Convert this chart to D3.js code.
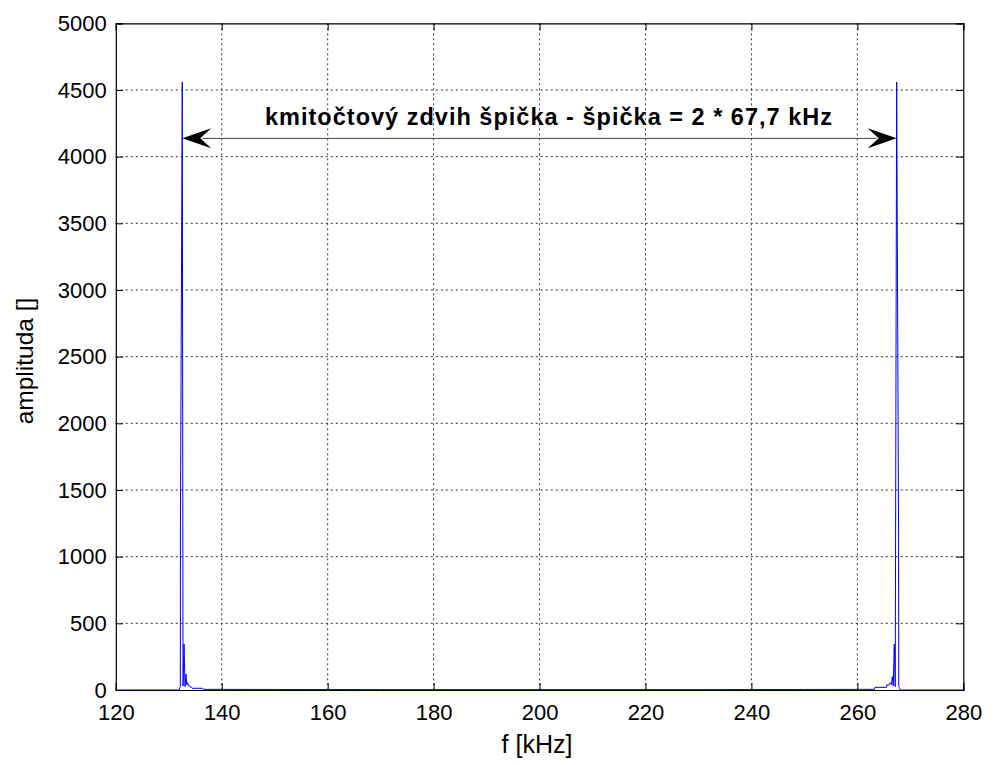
<!DOCTYPE html>
<html>
<head>
<meta charset="utf-8">
<script src="https://cdn.jsdelivr.net/npm/d3@7"></script>
<style>
  body { margin: 0; background: #fff; }
  svg { font-family: "Liberation Sans", Arial, sans-serif; }
</style>
</head>
<body>
<svg id="chart" width="994" height="765"></svg>
<script>
// spectrum (kHz, amplitude)
const freq = [
  120, 131.9, 132.1, 132.18, 132.2, 132.55, 132.69, 132.88, 133.07, 133.25, 133.38, 133.57, 133.7, 133.82, 134.0, 134.33, 134.4, 136.4, 136.5,
  150, 170, 200, 230, 250,
  263.2, 263.3, 265.5, 265.6, 265.9, 266.2, 266.45, 266.6, 266.78, 266.97, 267.15, 267.42, 267.78, 267.82, 267.9, 268.1, 280
];
const amp = [
  0, 0, 20, 25, 1215, 4560, 30, 345, 25, 120, 40, 55, 30, 35, 25, 20, 13, 13, 5,
  4, 3, 3, 3, 4,
  5, 20, 20, 40, 35, 55, 40, 100, 30, 343, 25, 4560, 1215, 25, 20, 0, 0
];

const xTicks = [120, 140, 160, 180, 200, 220, 240, 260, 280];
const yTicks = [0, 500, 1000, 1500, 2000, 2500, 3000, 3500, 4000, 4500, 5000];

const annotationText = "kmitočtový zdvih špička - špička = 2 * 67,7 kHz";
const arrowFrom = 132.55, arrowTo = 267.42, arrowAmp = 4137;

const svg = d3.select("#chart");
const m = { left: 115.8, right: 994 - 963.3, top: 23.3, bottom: 765 - 690 };
const W = 994 - m.left - m.right, H = 765 - m.top - m.bottom;

const x = d3.scaleLinear().domain([120, 280]).range([0, W]);
const y = d3.scaleLinear().domain([0, 5000]).range([H, 0]);

const g = svg.append("g").attr("transform", `translate(${m.left},${m.top})`);

// grid
g.append("g").selectAll("line").data(xTicks.slice(1, -1)).join("line")
  .attr("x1", d => x(d)).attr("x2", d => x(d)).attr("y1", 0).attr("y2", H)
  .attr("stroke", "#000").attr("stroke-width", 0.8).attr("stroke-dasharray", "2,3");
g.append("g").selectAll("line").data(yTicks.slice(1, -1)).join("line")
  .attr("x1", 0).attr("x2", W).attr("y1", d => y(d)).attr("y2", d => y(d))
  .attr("stroke", "#000").attr("stroke-width", 0.8).attr("stroke-dasharray", "2,3");

// spectrum
const line = d3.line().x((d, i) => x(freq[i])).y(d => y(d));
g.append("path").datum(amp).attr("d", line)
  .attr("fill", "none").attr("stroke", "#0000ff").attr("stroke-width", 1);

// axes (MATLAB style, ticks inward on all sides)
const tick = 7;
g.append("g").attr("transform", `translate(0,${H})`)
  .call(d3.axisBottom(x).tickValues(xTicks).tickSize(-tick).tickPadding(14))
  .call(a => a.selectAll("text").attr("font-size", 22).attr("fill", "#000"));
g.append("g")
  .call(d3.axisTop(x).tickValues(xTicks).tickSize(-tick).tickFormat(""));
g.append("g")
  .call(d3.axisLeft(y).tickValues(yTicks).tickSize(-tick).tickPadding(9).tickFormat(d3.format("d")))
  .call(a => a.selectAll("text").attr("font-size", 22).attr("fill", "#000"));
g.append("g").attr("transform", `translate(${W},0)`)
  .call(d3.axisRight(y).tickValues(yTicks).tickSize(-tick).tickFormat(""));
g.selectAll(".domain").attr("stroke", "#000").attr("stroke-width", 1.2);
g.selectAll(".tick line").attr("stroke", "#000");
svg.selectAll(".tick text").attr("font-family", "Liberation Sans, Arial, sans-serif");

// axis labels
svg.append("text").attr("x", 537).attr("y", 753)
  .attr("text-anchor", "middle").attr("font-size", 25).text("f [kHz]");
svg.append("text").attr("transform", `translate(33,361) rotate(-90)`)
  .attr("text-anchor", "middle").attr("font-size", 24.5).text("amplituda []");

// annotation arrow
const ay = y(arrowAmp), x1 = x(arrowFrom), x2 = x(arrowTo);
g.append("line").attr("x1", x1 + 20).attr("x2", x2 - 20).attr("y1", ay).attr("y2", ay)
  .attr("stroke", "#444").attr("stroke-width", 1);
const head = (tip, dir) => {
  const L = 29, Hh = 10, notch = 18;
  return `M${tip},${ay} L${tip + dir * L},${ay - Hh} L${tip + dir * notch},${ay} L${tip + dir * L},${ay + Hh} Z`;
};
g.append("path").attr("d", head(x1, 1)).attr("fill", "#000");
g.append("path").attr("d", head(x2, -1)).attr("fill", "#000");
svg.append("text").attr("x", 548.5).attr("y", 125)
  .attr("text-anchor", "middle").attr("font-size", 23.5).attr("font-weight", "bold")
  .attr("textLength", 567).attr("lengthAdjust", "spacing").text(annotationText);
</script>
</body>
</html>
